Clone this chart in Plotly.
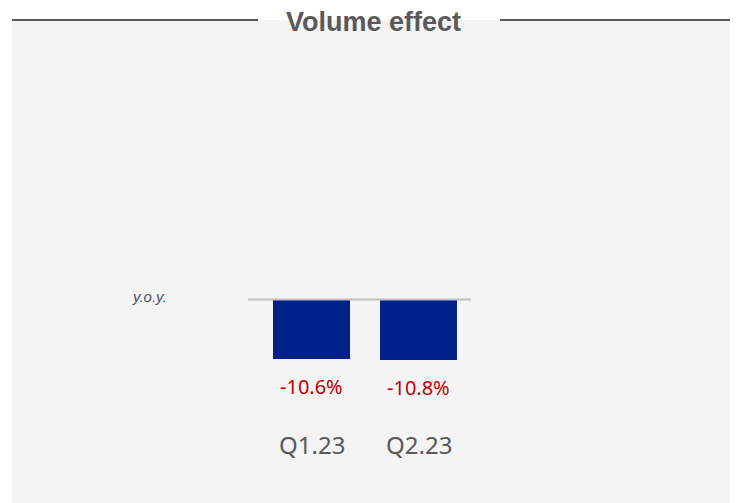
import plotly.graph_objects as go

categories = ["Q1.23", "Q2.23"]
values = [-10.6, -10.8]
value_labels = ["-10.6%", "-10.8%"]

W, H = 738, 503
OFF = 8  # page body margin: page pixel p sits at figure pixel p - OFF
BAR_COLOR = "#00208a"
LABEL_RED = "#c00000"
GREY_TEXT = "#595959"


def py(px):
    # page pixel row -> paper y
    return 1 - (px - OFF) / H


def pxx(px):
    return (px - OFF) / W


x = list(range(len(categories)))

fig = go.Figure()
fig.add_trace(
    go.Bar(
        x=x,
        y=values,
        width=0.72,
        marker=dict(color=BAR_COLOR, line=dict(width=0)),
        hoverinfo="skip",
        showlegend=False,
    )
)

# value labels under each bar, category labels further down
for xi, v, lab, cat in zip(x, values, value_labels, categories):
    fig.add_annotation(
        x=xi, y=v, xref="x", yref="y", text=lab, showarrow=False,
        yanchor="top", yshift=-12,
        font=dict(family="Noto Sans, Open Sans, sans-serif", size=20, color=LABEL_RED),
    )
    fig.add_annotation(
        x=xi, y=py(444), xref="x", yref="paper", text=cat, showarrow=False,
        yanchor="middle",
        font=dict(family="Noto Sans, Open Sans, sans-serif", size=24, color=GREY_TEXT),
    )

shapes = [
    # grey panel
    dict(type="rect", xref="paper", yref="paper", x0=pxx(12), x1=1, y0=0, y1=py(20),
         fillcolor="#f4f4f4", line=dict(width=0), layer="below"),
    # title rules
    dict(type="line", xref="paper", yref="paper", x0=pxx(12), x1=pxx(258), y0=py(20), y1=py(20),
         line=dict(color=GREY_TEXT, width=2)),
    dict(type="line", xref="paper", yref="paper", x0=pxx(500), x1=1, y0=py(20), y1=py(20),
         line=dict(color=GREY_TEXT, width=2)),
    # zero line
    dict(type="line", xref="x", yref="y", x0=-0.593, x1=1.49, y0=0, y1=0,
         line=dict(color="#bfbfbf", width=2), layer="above"),
]

fig.add_annotation(
    x=pxx(373), y=py(22), xref="paper", yref="paper", text="<b>Volume effect</b>",
    showarrow=False, xanchor="center", yanchor="middle",
    font=dict(family="Liberation Sans, Arial, sans-serif", size=27, color=GREY_TEXT),
)
fig.add_annotation(
    x=pxx(130), y=py(296), xref="paper", yref="paper", text="<i>y.o.y.</i>",
    showarrow=False, xanchor="left", yanchor="middle",
    font=dict(family="Liberation Sans, Arial, sans-serif", size=15, color="#44546a"),
)

zero_px = 299.5 - OFF
centre0 = 311.5 - OFF
fig.update_layout(
    width=W, height=H,
    margin=dict(l=0, r=0, t=0, b=0),
    paper_bgcolor="white",
    plot_bgcolor="rgba(0,0,0,0)",
    shapes=shapes,
    bargap=0,
    xaxis=dict(range=[-centre0 / 107, (W - centre0) / 107], visible=False, fixedrange=True),
    yaxis=dict(range=[-(H - zero_px) / 5.61, zero_px / 5.61], visible=False, fixedrange=True),
)

fig.write_html("out.html")
